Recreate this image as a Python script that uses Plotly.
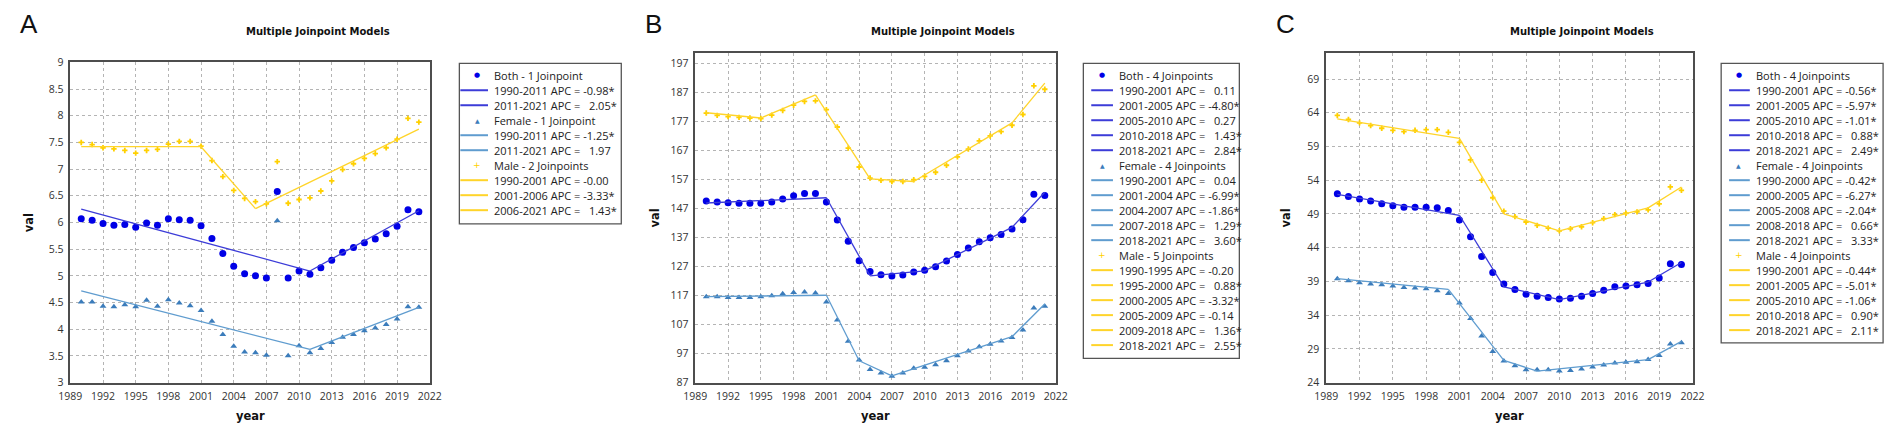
import plotly.graph_objects as go

W, H = 1902, 435
OFF = 8  # default page margin the browser puts round the figure
FW, FH = W - OFF, H - OFF

years = list(range(1990, 2022))

# ---- panel A ----
a_both = [6.07, 6.04, 5.98, 5.95, 5.96, 5.91, 5.99, 5.95, 6.07, 6.05, 6.04, 5.94,
          5.70, 5.42, 5.18, 5.04, 5.00, 4.96, 6.58, 4.96, 5.09, 5.03, 5.15, 5.29,
          5.44, 5.53, 5.62, 5.69, 5.79, 5.93, 6.24, 6.20]
a_female = [4.51, 4.51, 4.43, 4.42, 4.46, 4.42, 4.54, 4.43, 4.55, 4.49, 4.44, 4.35,
            4.15, 3.90, 3.68, 3.57, 3.56, 3.51, 6.03, 3.50, 3.69, 3.56, 3.64, 3.75,
            3.85, 3.90, 3.97, 4.02, 4.09, 4.19, 4.42, 4.41]
a_male = [7.50, 7.46, 7.40, 7.38, 7.35, 7.30, 7.35, 7.37, 7.47, 7.52, 7.52, 7.43,
          7.16, 6.86, 6.60, 6.45, 6.39, 6.35, 7.14, 6.36, 6.43, 6.46, 6.59, 6.78,
          6.99, 7.10, 7.20, 7.29, 7.40, 7.56, 7.95, 7.88]
a_both_jp = [1990, 2011, 2021]
a_both_fit = [6.25, 5.09, 6.22]
a_both_apc = ["-0.98*", "2.05*"]
a_female_jp = [1990, 2011, 2021]
a_female_fit = [4.72, 3.62, 4.41]
a_female_apc = ["-1.25*", "1.97"]
a_male_jp = [1990, 2001, 2006, 2021]
a_male_fit = [7.42, 7.42, 6.26, 7.75]
a_male_apc = ["-0.00", "-3.33*", "1.43*"]
a_names = ["Both - 1 Joinpoint", "Female - 1 Joinpoint", "Male - 2 Joinpoints"]

# ---- panel B ----
b_both = [149.6, 149.2, 149.0, 148.8, 148.8, 148.8, 149.2, 150.3, 151.4, 152.2, 152.2, 149.2,
          143.0, 135.7, 129.0, 125.3, 124.2, 123.7, 124.1, 125.1, 125.7, 126.9, 128.9, 131.1,
          133.4, 135.5, 136.9, 138.0, 139.9, 143.1, 151.9, 151.5]
b_female = [116.6, 116.6, 116.3, 116.3, 116.3, 116.6, 116.9, 117.6, 118.0, 118.2, 117.9, 114.8,
            108.6, 101.2, 94.8, 91.5, 90.3, 89.2, 90.3, 91.9, 92.3, 93.1, 94.5, 96.2,
            97.9, 99.3, 100.2, 101.3, 102.5, 105.1, 112.7, 113.3]
b_male = [179.9, 179.1, 178.7, 178.4, 178.2, 178.0, 179.2, 180.8, 182.6, 183.9, 184.1, 181.1,
          175.1, 167.8, 161.3, 157.5, 156.7, 156.3, 156.3, 156.9, 158.1, 159.5, 161.9, 164.8,
          167.5, 170.3, 172.0, 173.5, 175.7, 179.4, 189.3, 188.1]
b_both_jp = [1990, 2001, 2005, 2010, 2018, 2021]
b_both_fit = [148.9, 150.7, 123.8, 125.5, 140.5, 152.6]
b_both_apc = ["0.11", "-4.80*", "0.27", "1.43*", "2.84*"]
b_female_jp = [1990, 2001, 2004, 2007, 2018, 2021]
b_female_fit = [116.6, 117.1, 94.5, 89.3, 102.8, 114.1]
b_female_apc = ["0.04", "-6.99*", "-1.86*", "1.29*", "3.60*"]
b_male_jp = [1990, 1995, 2000, 2005, 2009, 2018, 2021]
b_male_fit = [180.0, 178.2, 186.2, 157.2, 156.3, 176.5, 190.2]
b_male_apc = ["-0.20", "0.88*", "-3.32*", "-0.14", "1.36*", "2.55*"]
b_names = ["Both - 4 Joinpoints", "Female - 4 Joinpoints", "Male - 5 Joinpoints"]

# ---- panel C ----
c_both = [52.0, 51.6, 51.2, 50.9, 50.5, 50.2, 50.0, 50.0, 50.0, 49.9, 49.5, 48.1,
          45.6, 42.7, 40.3, 38.6, 37.8, 37.1, 36.8, 36.6, 36.4, 36.5, 36.8, 37.2,
          37.7, 38.2, 38.3, 38.5, 38.7, 39.5, 41.6, 41.5]
c_female = [39.4, 39.1, 38.8, 38.6, 38.5, 38.3, 38.1, 38.0, 37.9, 37.6, 37.2, 35.8,
            33.5, 30.9, 28.6, 27.2, 26.5, 25.9, 25.9, 25.9, 25.7, 25.8, 26.0, 26.3,
            26.6, 26.9, 27.0, 27.1, 27.4, 28.0, 29.7, 29.9]
c_male = [63.6, 63.0, 62.5, 62.1, 61.7, 61.4, 61.2, 61.4, 61.5, 61.5, 61.1, 59.6,
          57.0, 54.0, 51.4, 49.4, 48.6, 47.8, 47.3, 46.9, 46.5, 46.8, 47.1, 47.7,
          48.3, 48.9, 49.1, 49.3, 49.6, 50.5, 53.0, 52.5]
c_both_jp = [1990, 2001, 2005, 2010, 2018, 2021]
c_both_fit = [51.9, 48.8, 38.2, 36.3, 38.9, 41.8]
c_both_apc = ["-0.56*", "-5.97*", "-1.01*", "0.88*", "2.49*"]
c_female_jp = [1990, 2000, 2005, 2008, 2018, 2021]
c_female_fit = [39.4, 37.8, 27.3, 25.7, 27.4, 30.1]
c_female_apc = ["-0.42*", "-6.27*", "-2.04*", "0.66*", "3.33*"]
c_male_jp = [1990, 2001, 2005, 2010, 2018, 2021]
c_male_fit = [63.1, 60.2, 49.0, 46.5, 49.9, 53.0]
c_male_apc = ["-0.44*", "-5.01*", "-1.06*", "0.90*", "2.11*"]
c_names = ["Both - 4 Joinpoints", "Female - 4 Joinpoints", "Male - 4 Joinpoints"]

# styles per series: marker colour, symbol, size, line colour, legend glyph
styles = [
    dict(mc="#0000e6", sym="circle", size=7, lc="#3c3cd8", glyph="\u25cf", gsize=7),
    dict(mc="#3b7cbb", sym="triangle-up", size=6, lc="#5f9ccf", glyph="\u25b2", gsize=6),
    dict(mc="#ffd000", sym="cross", size=4.5, lc="#ffd42a", glyph="+", gsize=9),
]

panels = [
    dict(letter="A", plot=(59, 57, 423, 388), yr=[3, 9], t0=3, dt=0.5,
         legend=(453, 58, 617, 224, 454, 482, 471, 486), title_x=310,
         obs=[a_both, a_female, a_male],
         jp=[a_both_jp, a_female_jp, a_male_jp],
         fit=[a_both_fit, a_female_fit, a_male_fit],
         apc=[a_both_apc, a_female_apc, a_male_apc], names=a_names),
    dict(letter="B", plot=(692, 47, 1057, 388), yr=[87, 200.7], t0=87, dt=10,
         legend=(1085, 58, 1243, 363, 1093, 1115, 1104, 1119), title_x=943,
         obs=[b_both, b_female, b_male],
         jp=[b_both_jp, b_female_jp, b_male_jp],
         fit=[b_both_fit, b_female_fit, b_male_fit],
         apc=[b_both_apc, b_female_apc, b_male_apc], names=b_names),
    dict(letter="C", plot=(1331, 47, 1702, 388), yr=[24, 72.9], t0=24, dt=5,
         legend=(1731, 58, 1895, 347, 1739, 1760, 1749, 1764), title_x=1590,
         obs=[c_both, c_female, c_male],
         jp=[c_both_jp, c_female_jp, c_male_jp],
         fit=[c_both_fit, c_female_fit, c_male_fit],
         apc=[c_both_apc, c_female_apc, c_male_apc], names=c_names),
]


# page pixel -> paper fraction
def fx(p):
    return (p - OFF) / FW


def fy(p):
    return 1 - (p - OFF) / FH


NB = "\u00a0"
fig = go.Figure()
annotations = []
shapes = []

axis_common = dict(showline=True, mirror=True, linecolor="#4d4d4d", linewidth=1.5,
                   showgrid=True, gridcolor="#b4b4b4", griddash="dot", gridwidth=1,
                   zeroline=False, ticks="", ticklabelstandoff=3,
                   tickfont=dict(family="Open Sans", size=10.5, color="#333333"))

for k, p in enumerate(panels, start=1):
    sfx = "" if k == 1 else str(k)
    xa, ya = "x" + sfx, "y" + sfx
    x0, y0, x1, y1 = p["plot"]
    fig.layout["xaxis" + sfx] = dict(domain=[fx(x0), fx(x1)], range=[1989, 2022],
                                     tick0=1989, dtick=3, anchor=ya, **axis_common)
    fig.layout["yaxis" + sfx] = dict(domain=[fy(y1), fy(y0)], range=p["yr"],
                                     tick0=p["t0"], dtick=p["dt"], anchor=xa, **axis_common)

    for obs, jp, fit, st in zip(p["obs"], p["jp"], p["fit"], styles):
        fig.add_trace(go.Scatter(x=years, y=obs, mode="markers", xaxis=xa, yaxis=ya,
                                 marker=dict(symbol=st["sym"], size=st["size"], color=st["mc"],
                                             line=dict(width=0)),
                                 showlegend=False, hoverinfo="x+y"))
        for i in range(len(jp) - 1):
            fig.add_trace(go.Scatter(x=jp[i:i + 2], y=fit[i:i + 2], mode="lines",
                                     xaxis=xa, yaxis=ya,
                                     line=dict(color=st["lc"], width=1.3),
                                     showlegend=False, hoverinfo="skip"))

    # panel letter, title, axis titles
    annotations.append(dict(text=p["letter"], x=fx(x0 - 53), y=fy(17), xref="paper", yref="paper",
                            xanchor="left", yanchor="middle", showarrow=False,
                            font=dict(family="Liberation Sans", size=26, color="#111111")))
    annotations.append(dict(text="<b>Multiple Joinpoint Models</b>", x=fx(p["title_x"]), y=fy(25),
                            xref="paper", yref="paper", xanchor="center", yanchor="middle",
                            showarrow=False,
                            font=dict(family="DejaVu Sans", size=10, color="#111111")))
    annotations.append(dict(text="<b>val</b>", x=fx(x0 - 41), y=fy((y0 + y1) / 2),
                            xref="paper", yref="paper", textangle=-90, showarrow=False,
                            xanchor="center", yanchor="middle",
                            font=dict(family="DejaVu Sans", size=11.5, color="#111111")))
    annotations.append(dict(text="<b>year</b>", x=fx((x0 + x1) / 2), y=fy(423),
                            xref="paper", yref="paper", showarrow=False,
                            xanchor="center", yanchor="middle",
                            font=dict(family="DejaVu Sans", size=11.5, color="#111111")))

    # hand-built legend box (rows tighter than plotly's own legend allows)
    lx0, ly0, lx1, ly1, lnx0, lnx1, gx, tx = p["legend"]
    shapes.append(dict(type="rect", xref="paper", yref="paper", x0=fx(lx0), x1=fx(lx1),
                       y0=fy(ly1), y1=fy(ly0), line=dict(color="#555555", width=1.3),
                       fillcolor="white", layer="above"))
    row = 0
    step = 15.5
    for name, jp, apc, st in zip(p["names"], p["jp"], p["apc"], styles):
        yy = ly0 + 12.3 + row * step
        annotations.append(dict(text=st["glyph"], x=fx(gx), y=fy(yy), xref="paper", yref="paper",
                                showarrow=False, xanchor="center", yanchor="middle",
                                font=dict(family="DejaVu Sans", size=st["gsize"], color=st["mc"])))
        annotations.append(dict(text=name, x=fx(tx), y=fy(yy), xref="paper", yref="paper",
                                showarrow=False, xanchor="left", yanchor="middle",
                                font=dict(family="Open Sans", size=11, color="#222222")))
        row += 1
        for i, v in enumerate(apc):
            yy = ly0 + 12.3 + row * step
            pad = "" if v.startswith("-") else NB + NB
            label = f"{jp[i]}-{jp[i + 1]} APC{NB}={NB}{pad}{v}"
            shapes.append(dict(type="line", xref="paper", yref="paper", x0=fx(lnx0), x1=fx(lnx1),
                               y0=fy(yy), y1=fy(yy), line=dict(color=st["lc"], width=2),
                               layer="above"))
            annotations.append(dict(text=label, x=fx(tx), y=fy(yy), xref="paper", yref="paper",
                                    showarrow=False, xanchor="left", yanchor="middle",
                                    font=dict(family="Open Sans", size=11, color="#222222")))
            row += 1

fig.update_layout(width=FW, height=FH, margin=dict(l=0, r=0, t=0, b=0),
                  paper_bgcolor="white", plot_bgcolor="white",
                  showlegend=False, annotations=annotations, shapes=shapes)

fig.write_html("out.html")
